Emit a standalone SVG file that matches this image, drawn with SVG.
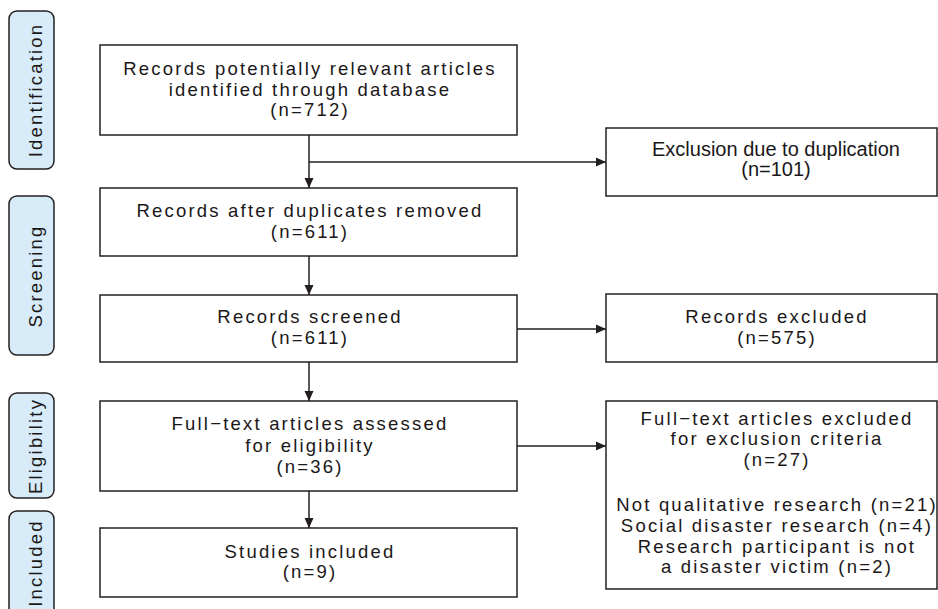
<svg xmlns="http://www.w3.org/2000/svg" width="938" height="609" viewBox="0 0 938 609">
<defs>
<style>
.box{fill:#fff;stroke:#231f20;stroke-width:1.5}
.side{fill:#d7ecf8;stroke:#231f20;stroke-width:1.5}
.t{font-family:"Liberation Sans",Arial,sans-serif;font-size:18.5px;letter-spacing:2.2px;fill:#1a1718;text-anchor:middle}
.t2{font-family:"Liberation Sans",Arial,sans-serif;font-size:20px;fill:#1a1718;text-anchor:middle}
.c{stroke:#231f20;stroke-width:1.5;fill:none}
</style>
<marker id="ah" markerWidth="12" markerHeight="12" refX="10" refY="6" orient="auto" markerUnits="userSpaceOnUse">
<path d="M0,1.5 L10,6 L0,10.5 Z" fill="#231f20"/>
</marker>
</defs>
<rect width="938" height="609" fill="#fff"/>

<g id="side-identification">
<rect class="side" x="9" y="11" width="45" height="158" rx="8"/>
<text class="t" transform="translate(42,90) rotate(-90)">Identification</text>
</g>
<g id="side-screening">
<rect class="side" x="9" y="196" width="45" height="159" rx="8"/>
<text class="t" transform="translate(42,276) rotate(-90)">Screening</text>
</g>
<g id="side-eligibility">
<rect class="side" x="9" y="393" width="45" height="105" rx="8"/>
<text class="t" transform="translate(42,446) rotate(-90)">Eligibility</text>
</g>
<g id="side-included">
<rect class="side" x="9" y="511" width="45" height="120" rx="8"/>
<text class="t" transform="translate(42,563) rotate(-90)">Included</text>
</g>

<g id="n1">
<rect class="box" x="100" y="45" width="417" height="90"/>
<text class="t" x="310" y="75">Records potentially relevant articles</text>
<text class="t" x="310" y="96">identified through database</text>
<text class="t" x="310" y="116">(n=712)</text>
</g>
<g id="n2">
<rect class="box" x="100" y="188" width="417" height="68"/>
<text class="t" x="310" y="217">Records after duplicates removed</text>
<text class="t" x="310" y="238">(n=611)</text>
</g>
<g id="n3">
<rect class="box" x="100" y="295" width="417" height="67"/>
<text class="t" x="310" y="323">Records screened</text>
<text class="t" x="310" y="344">(n=611)</text>
</g>
<g id="n4">
<rect class="box" x="100" y="401" width="417" height="90"/>
<text class="t" x="310" y="430">Full−text articles assessed</text>
<text class="t" x="310" y="452">for eligibility</text>
<text class="t" x="310" y="473">(n=36)</text>
</g>
<g id="n5">
<rect class="box" x="100" y="528" width="417" height="69"/>
<text class="t" x="310" y="558">Studies included</text>
<text class="t" x="310" y="578">(n=9)</text>
</g>

<g id="r1">
<rect class="box" x="606" y="128" width="331" height="68"/>
<text class="t2" x="776" y="156">Exclusion due to duplication</text>
<text class="t2" x="776" y="176">(n=101)</text>
</g>
<g id="r2">
<rect class="box" x="606" y="294" width="331" height="68"/>
<text class="t" x="777" y="323">Records excluded</text>
<text class="t" x="777" y="344">(n=575)</text>
</g>
<g id="r3">
<rect class="box" x="606" y="401" width="331" height="188"/>
<text class="t" x="777" y="425">Full−text articles excluded</text>
<text class="t" x="777" y="445">for exclusion criteria</text>
<text class="t" x="777" y="466">(n=27)</text>
<text class="t" x="777" y="511">Not qualitative research (n=21)</text>
<text class="t" x="777" y="532">Social disaster research (n=4)</text>
<text class="t" x="777" y="553">Research participant is not</text>
<text class="t" x="777" y="573">a disaster victim (n=2)</text>
</g>

<g id="connectors">
<line class="c" x1="309" y1="135" x2="309" y2="188" marker-end="url(#ah)"/>
<line class="c" x1="309" y1="162" x2="606" y2="162" marker-end="url(#ah)"/>
<line class="c" x1="309" y1="256" x2="309" y2="295" marker-end="url(#ah)"/>
<line class="c" x1="517" y1="329" x2="606" y2="329" marker-end="url(#ah)"/>
<line class="c" x1="309" y1="362" x2="309" y2="401" marker-end="url(#ah)"/>
<line class="c" x1="517" y1="446" x2="606" y2="446" marker-end="url(#ah)"/>
<line class="c" x1="309" y1="491" x2="309" y2="528" marker-end="url(#ah)"/>
</g>
</svg>
